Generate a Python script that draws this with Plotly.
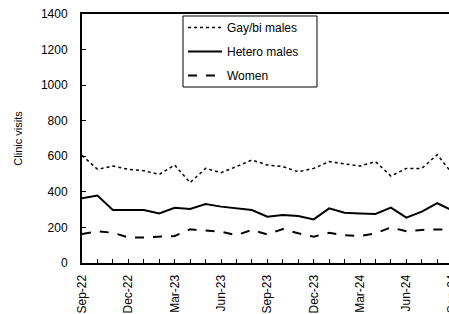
import plotly.graph_objects as go

months = ["Sep-22","Oct-22","Nov-22","Dec-22","Jan-23","Feb-23","Mar-23","Apr-23","May-23","Jun-23",
          "Jul-23","Aug-23","Sep-23","Oct-23","Nov-23","Dec-23","Jan-24","Feb-24","Mar-24","Apr-24",
          "May-24","Jun-24","Jul-24","Aug-24","Sep-24"]
gay_bi = [605, 527, 545, 527, 519, 498, 551, 452, 532, 508, 542, 579, 551, 542, 513, 532,
          570, 557, 545, 570, 489, 532, 532, 609, 500]
hetero = [364, 379, 298, 298, 298, 279, 311, 304, 332, 317, 306, 298, 260, 270, 264, 245,
          307, 283, 279, 276, 311, 255, 289, 336, 295]
women = [163, 178, 170, 144, 144, 148, 152, 189, 182, 176, 157, 186, 161, 191, 167, 148,
         170, 156, 152, 167, 200, 178, 186, 189, 186]
tick_labels = months[::3]

FONT = "Liberation Sans, Arial, sans-serif"
idx = list(range(len(months)))
XMAX = 23.76

fig = go.Figure()
fig.add_trace(go.Scatter(x=idx, y=gay_bi, mode="lines", name="Gay/bi males",
                         line=dict(color="black", width=1.5, dash="dot"), legendgroup="a"))
fig.add_trace(go.Scatter(x=idx, y=hetero, mode="lines", name="Hetero males",
                         line=dict(color="black", width=2), legendgroup="b"))
fig.add_trace(go.Scatter(x=idx, y=women, mode="lines", name="Women",
                         line=dict(color="black", width=2, dash="dash"), legendgroup="c"))

fig.update_layout(
    width=449, height=314,
    margin=dict(l=82, r=0, t=14, b=51),
    paper_bgcolor="white", plot_bgcolor="white",
    font=dict(family=FONT, size=12, color="black"),
    showlegend=True,
    legend=dict(x=0.2752, y=1.004, xanchor="left", yanchor="top",
                borderwidth=0, bgcolor="rgba(0,0,0,0)",
                font=dict(family=FONT, size=12), traceorder="grouped",
                tracegroupgap=5, itemwidth=34),
    shapes=[dict(type="rect", xref="paper", yref="paper",
                 x0=0.2752, x1=0.6403, y0=0.7068, y1=0.992,
                 line=dict(color="black", width=1), fillcolor="white", layer="above")],
    xaxis=dict(range=[0, XMAX], tickmode="array", tickvals=idx[::3], ticktext=tick_labels,
               tickangle=-90, ticks="inside", ticklen=4, tickwidth=1, tickcolor="black",
               minor=dict(dtick=1, tick0=0, ticks="inside", ticklen=4, tickwidth=1, tickcolor="black"),
               showline=True, linecolor="black", linewidth=2, mirror=True,
               showgrid=False, zeroline=False, ticklabelstandoff=5, automargin=False,
               tickfont=dict(family=FONT, size=12)),
    yaxis=dict(range=[0, 1400], dtick=200, ticks="inside", ticklen=4, tickwidth=1, tickcolor="black",
               showline=True, linecolor="black", linewidth=2, mirror=False,
               showgrid=False, zeroline=False, ticklabelstandoff=10, ticklabeloverflow="allow",
               automargin=False, tickfont=dict(family=FONT, size=12),
               title=dict(text="Clinic visits", font=dict(family=FONT, size=11), standoff=16)),
    annotations=[dict(text=months[-1], xref="paper", yref="paper",
                      x=(24 / XMAX), y=-0.036, xanchor="center", yanchor="top",
                      textangle=-90, showarrow=False, font=dict(family=FONT, size=12))],
)

fig.write_html("out.html", config={"displayModeBar": False},
               post_script="document.body.style.margin='0px';")
